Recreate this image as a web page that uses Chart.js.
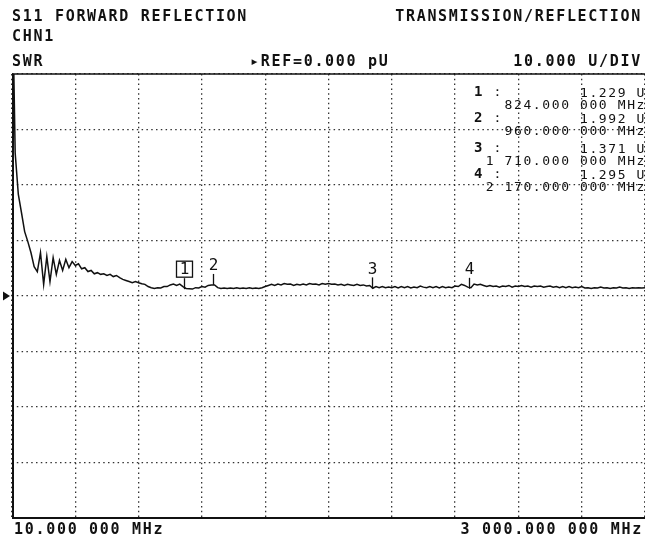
<!DOCTYPE html>
<html>
<head>
<meta charset="utf-8">
<script src="https://cdn.jsdelivr.net/npm/chart.js@4.4.0/dist/chart.umd.min.js"></script>
<style>
  body { margin: 0; background: #fff; }
  #wrap { position: relative; width: 645px; height: 557px; overflow: hidden; }
  #c { position: absolute; left: 0; top: 0; }
  .t {
    position: absolute;
    font-family: "DejaVu Sans Mono", monospace;
    font-size: 15px;
    line-height: 15px;
    font-weight: bold;
    letter-spacing: 1.7px;
    color: #111;
    white-space: pre;
  }
  .r {
    position: absolute;
    font-family: "DejaVu Sans Mono", monospace;
    font-size: 13px;
    line-height: 13px;
    letter-spacing: 1.6px;
    color: #111;
    white-space: pre;
  }
  .r b { font-weight: bold; font-size: 14px; }
</style>
</head>
<body>
<div id="wrap">
  <canvas id="c" width="645" height="557"></canvas>
  <div class="t" style="left:12px;top:9px">S11 FORWARD REFLECTION</div>
  <div class="t" style="right:3px;top:9px">TRANSMISSION/REFLECTION</div>
  <div class="t" style="left:12px;top:29px">CHN1</div>
  <div class="t" style="left:12px;top:54px">SWR</div>
  <div class="t" style="left:250px;top:54px">▸REF=0.000 pU</div>
  <div class="t" style="right:3px;top:54px">10.000 U/DIV</div>
  <div class="t" style="left:14px;top:522px">10.000 000 MHz</div>
  <div class="t" style="right:2px;top:522px">3 000.000 000 MHz</div>
  <div id="readout"></div>
</div>
<script>
// sweep 10 MHz .. 3000 MHz, 201 points, SWR (U)
const startMHz = 10;
const stopMHz = 3000;
const swrTrace = [
  60, 25.8, 18.3, 15.0, 11.6, 9.8, 7.8, 5.3, 4.4, 7.8,
  2.1, 7.1, 2.6, 6.9, 3.9, 6.4, 4.6, 6.6, 5.1, 6.2,
  5.5, 5.8, 4.9, 5.1, 4.4, 4.6, 4.0, 4.2, 3.9, 4.0,
  3.7, 3.9, 3.5, 3.7, 3.3, 3.0, 2.8, 2.6, 2.4, 2.6,
  2.4, 2.2, 2.1, 1.7, 1.5, 1.35, 1.5, 1.45, 1.7, 1.7,
  2.0, 2.15, 1.9, 2.15, 1.7, 1.35, 1.3, 1.25, 1.5, 1.45,
  1.7, 1.6, 1.9, 2.0, 2.0, 1.5, 1.35, 1.45, 1.35, 1.45,
  1.35, 1.5, 1.35, 1.45, 1.35, 1.5, 1.35, 1.45, 1.35, 1.5,
  1.7, 1.9, 2.1, 1.9, 2.15, 2.0, 2.25, 2.1, 2.15, 1.9,
  2.1, 2.0, 2.15, 2.0, 2.25, 2.1, 2.15, 2.0, 2.25, 2.1,
  2.25, 2.1, 2.15, 2.0, 2.1, 1.9, 2.1, 2.0, 1.9, 2.1,
  1.9, 2.0, 1.8, 1.9, 1.4, 1.7, 1.5, 1.7, 1.5, 1.6,
  1.5, 1.7, 1.45, 1.7, 1.5, 1.7, 1.45, 1.6, 1.5, 1.8,
  1.6, 1.5, 1.7, 1.5, 1.7, 1.45, 1.7, 1.5, 1.6, 1.5,
  1.8, 1.7, 2.1, 1.9, 1.6, 1.5, 2.15, 2.0, 2.1, 1.9,
  1.7, 1.9, 1.7, 1.8, 1.6, 1.8, 1.7, 1.9, 1.6, 1.8,
  1.7, 1.9, 1.7, 1.8, 1.6, 1.8, 1.7, 1.8, 1.6, 1.7,
  1.8, 1.6, 1.7, 1.5, 1.7, 1.5, 1.7, 1.5, 1.6, 1.5,
  1.7, 1.45, 1.5, 1.35, 1.5, 1.45, 1.6, 1.45, 1.5, 1.35,
  1.5, 1.45, 1.6, 1.45, 1.5, 1.35, 1.5, 1.45, 1.5, 1.45, 1.5
];

// markers
const markerFreqs = [824, 960, 1710, 2170];
const markerSwr = [1.229, 1.992, 1.371, 1.295];
const markerFreqLabels = ['824.000 000 MHz', '960.000 000 MHz', '1 710.000 000 MHz', '2 170.000 000 MHz'];
const activeMarker = 0;

// display scale
const refLevel = 0;
const unitsPerDiv = 10;
const yDivs = 8;
const xDivs = 10;

const readoutRows = [86, 112, 142, 168];
let html = '';
markerFreqs.forEach((f, i) => {
  const top = readoutRows[i];
  html += `<div class="r" style="left:474px;top:${top - 1}px"><b>${i + 1}</b> :</div>`;
  html += `<div class="r" style="right:-1px;top:${top}px">${markerSwr[i].toFixed(3)} U</div>`;
  html += `<div class="r" style="right:-1px;top:${top + 12}px">${markerFreqLabels[i]}</div>`;
});
document.getElementById('readout').innerHTML = html;

const sweepStep = (stopMHz - startMHz) / (swrTrace.length - 1);
const tracePoints = swrTrace.map((v, i) => ({ x: startMHz + i * sweepStep, y: v }));

const overlay = {
  id: 'overlay',
  afterDatasetsDraw(chart) {
    const { ctx, chartArea: a, scales: { x, y } } = chart;
    ctx.save();
    ctx.strokeStyle = '#111';
    ctx.fillStyle = '#111';
    // frame (no right edge on the screen)
    ctx.lineWidth = 1.5;
    ctx.beginPath();
    ctx.moveTo(a.left, a.top);
    ctx.lineTo(a.right, a.top);
    ctx.stroke();
    ctx.lineWidth = 2;
    ctx.beginPath();
    ctx.moveTo(a.left + 1, a.top);
    ctx.lineTo(a.left + 1, a.bottom);
    ctx.lineTo(a.right, a.bottom);
    ctx.stroke();
    // reference position arrow
    const ry = y.getPixelForValue(refLevel);
    ctx.beginPath();
    ctx.moveTo(3, ry - 4.5);
    ctx.lineTo(10, ry);
    ctx.lineTo(3, ry + 4.5);
    ctx.closePath();
    ctx.fill();
    // marker ticks + numbers
    ctx.font = '16px "DejaVu Sans Mono"';
    ctx.textAlign = 'center';
    ctx.textBaseline = 'middle';
    ctx.lineWidth = 1.3;
    markerFreqs.forEach((f, i) => {
      const px = Math.round(x.getPixelForValue(f)) + 0.5;
      const py = y.getPixelForValue(markerSwr[i]);
      const top = py - 11;
      ctx.beginPath();
      ctx.moveTo(px, py);
      ctx.lineTo(px, top);
      ctx.stroke();
      if (i === activeMarker) {
        ctx.strokeRect(px - 8, top - 17, 16, 16);
        ctx.fillText(String(i + 1), px, top - 8.5);
      } else {
        ctx.fillText(String(i + 1), px, top - 8);
      }
    });
    ctx.restore();
  }
};

new Chart(document.getElementById('c'), {
  type: 'line',
  data: {
    datasets: [{
      data: tracePoints,
      borderColor: '#111',
      borderWidth: 1.5,
      pointRadius: 0,
      tension: 0,
      fill: false
    }]
  },
  options: {
    responsive: false,
    animation: false,
    events: [],
    layout: { padding: { left: 12, top: 74, right: 0, bottom: 39 } },
    plugins: { legend: { display: false }, tooltip: { enabled: false } },
    scales: {
      x: {
        type: 'linear',
        min: startMHz,
        max: stopMHz,
        ticks: { display: false, stepSize: (stopMHz - startMHz) / xDivs },
        grid: { color: '#333', lineWidth: 1.3, drawTicks: false },
        border: { display: false, dash: [1.5, 3.3] }
      },
      y: {
        min: refLevel - unitsPerDiv * yDivs / 2,
        max: refLevel + unitsPerDiv * yDivs / 2,
        ticks: { display: false, stepSize: unitsPerDiv },
        grid: { color: '#333', lineWidth: 1.3, drawTicks: false },
        border: { display: false, dash: [1.5, 3.3] }
      }
    }
  },
  plugins: [overlay]
});
</script>
</body>
</html>
